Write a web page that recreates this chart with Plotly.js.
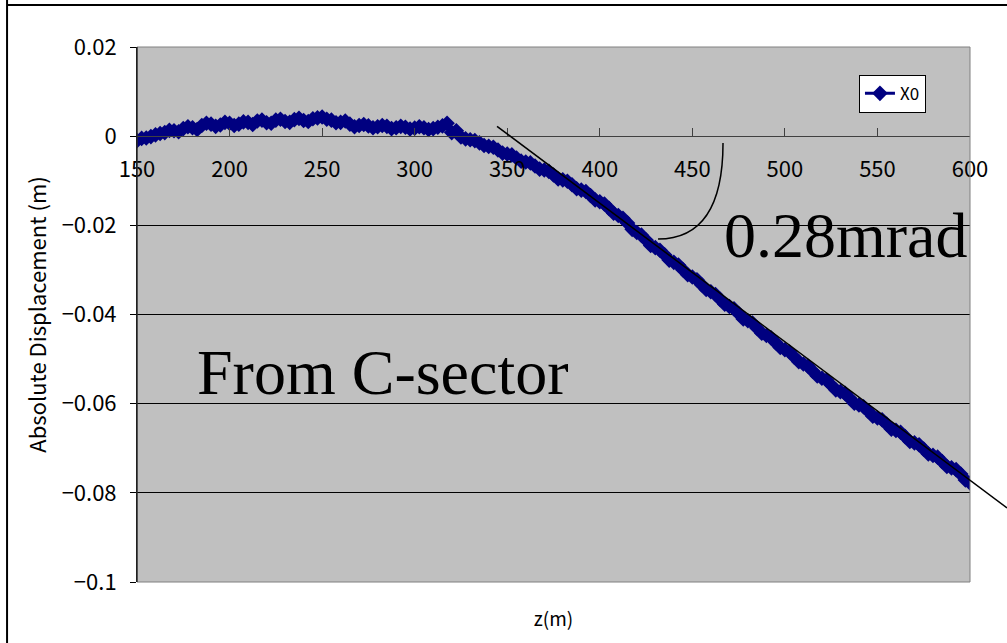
<!DOCTYPE html>
<html>
<head>
<meta charset="utf-8">
<script src="https://cdn.plot.ly/plotly-3.0.1.min.js"></script>
<style>html,body{margin:0;padding:0;background:#fff;}#chart{width:1007px;height:643px;}</style>
</head>
<body>
<div id="chart"></div>
<script>
// ---- data ----
const Z = [150,155,160,165,170,175,180,185,190,195,200,205,210,215,220,225,230,235,240,245,250,255,260,265,270,275,280,285,290,295,300,305,310,315,320,325,330,335,340,345,350,355,360,365,370,375,380,385,390,395,400,405,410,415,420,425,430,435,440,445,450,455,460,465,470,475,480,485,490,495,500,505,510,515,520,525,530,535,540,545,550,555,560,565,570,575,580,585,590,595,600];
const X0 = [-0.0010,-0.0004,0.0003,0.0008,0.0012,0.0017,0.0019,0.0024,0.0027,0.0025,0.0029,0.0027,0.0031,0.0034,0.0030,0.0036,0.0033,0.0037,0.0035,0.0039,0.0043,0.0036,0.0031,0.0027,0.0024,0.0023,0.0021,0.0022,0.0019,0.0020,0.0018,0.0019,0.0017,0.0023,0.0008,-0.0002,-0.0008,-0.0015,-0.0023,-0.0031,-0.0040,-0.0049,-0.0058,-0.0067,-0.0076,-0.0087,-0.0098,-0.0109,-0.0121,-0.0133,-0.0147,-0.0162,-0.0178,-0.0195,-0.0216,-0.0233,-0.0250,-0.0266,-0.0283,-0.0300,-0.0316,-0.0333,-0.0349,-0.0366,-0.0382,-0.0398,-0.0414,-0.0431,-0.0447,-0.0463,-0.0479,-0.0495,-0.0511,-0.0527,-0.0543,-0.0558,-0.0573,-0.0588,-0.0603,-0.0617,-0.0632,-0.0646,-0.0660,-0.0674,-0.0688,-0.0702,-0.0716,-0.0730,-0.0744,-0.0758,-0.0778];
const Z_MID = [152.5,157.5,162.5,167.5,172.5,177.5,182.5,187.5,192.5,197.5,202.5,207.5,212.5,217.5,222.5,227.5,232.5,237.5,242.5,247.5,252.5,257.5,262.5,267.5,272.5,277.5,282.5,287.5,292.5,297.5,302.5,307.5,312.5,317.5,322.5,327.5,332.5,337.5,342.5,347.5,352.5,357.5,362.5,367.5,372.5,377.5,382.5,387.5,392.5,397.5,402.5,407.5,412.5,417.5,422.5,427.5,432.5,437.5,442.5,447.5,452.5,457.5,462.5,467.5,472.5,477.5,482.5,487.5,492.5,497.5,502.5,507.5,512.5,517.5,522.5,527.5,532.5,537.5,542.5,547.5,552.5,557.5,562.5,567.5,572.5,577.5,582.5,587.5,592.5,597.5];
const X0_MID = [-0.0005,-0.0001,0.0006,0.0013,0.0010,0.0021,0.0015,0.0029,0.0022,0.0031,0.0024,0.0032,0.0026,0.0036,0.0029,0.0038,0.0031,0.0040,0.0033,0.0041,0.0038,0.0030,0.0034,0.0021,0.0026,0.0019,0.0024,0.0017,0.0022,0.0016,0.0021,0.0015,0.0020,0.0029,0.0012,-0.0006,-0.0010,-0.0021,-0.0025,-0.0038,-0.0042,-0.0056,-0.0060,-0.0074,-0.0079,-0.0096,-0.0101,-0.0118,-0.0124,-0.0143,-0.0152,-0.0173,-0.0184,-0.0209,-0.0222,-0.0245,-0.0256,-0.0278,-0.0289,-0.0311,-0.0322,-0.0344,-0.0355,-0.0377,-0.0387,-0.0410,-0.0419,-0.0442,-0.0452,-0.0474,-0.0484,-0.0506,-0.0516,-0.0538,-0.0547,-0.0569,-0.0577,-0.0599,-0.0607,-0.0628,-0.0636,-0.0657,-0.0664,-0.0685,-0.0692,-0.0713,-0.0720,-0.0741,-0.0748,-0.0771];
const SERIES_NAME = 'X0';
const X_TICKS = [150,200,250,300,350,400,450,500,550,600];
const Y_TICKS = [0.02,0,-0.02,-0.04,-0.06,-0.08,-0.1];
const Y_TICK_TEXT = ['0.02','0','\u22120.02','\u22120.04','\u22120.06','\u22120.08','\u22120.1'];
const X_RANGE = [150,600];
const Y_RANGE = [-0.1,0.02];
// tangent line annotation (z, value) and labels
const TANGENT_Z = [344.5,620];
const TANGENT_V = [0.0022,-0.0834];
const ANGLE_LABEL = '0.28mrad';
const SECTOR_LABEL = 'From C-sector';

// merge the two sampled sets in z order
const pts = Z.map((z,i)=>[z,X0[i]]).concat(Z_MID.map((z,i)=>[z,X0_MID[i]])).sort((a,b)=>a[0]-b[0]);
const allZ = pts.map(p=>p[0]);
const allV = pts.map(p=>p[1]);

const px = z => (z - X_RANGE[0]) / (X_RANGE[1] - X_RANGE[0]);
const py = v => (v - Y_RANGE[0]) / (Y_RANGE[1] - Y_RANGE[0]);

const FONT = '"Noto Sans CJK JP", "Noto Sans", sans-serif';
const tickFont = {family:FONT, size:22, color:'#000'};

const traces = [
  {x:allZ, y:allV, type:'scatter', mode:'lines+markers', name:SERIES_NAME, xaxis:'x', yaxis:'y',
   line:{color:'#000080', width:3}, marker:{symbol:'diamond', size:12, color:'#000080'}},
  {x:[], y:[], type:'scatter', xaxis:'x2', yaxis:'y', showlegend:false, hoverinfo:'skip'}
];

const layout = {
  width:1007, height:643,
  margin:{l:137, r:37, t:47, b:61},
  paper_bgcolor:'#ffffff', plot_bgcolor:'#c0c0c0',
  showlegend:true,
  legend:{x:0.8667, y:0.948, xanchor:'left', yanchor:'top', bgcolor:'#ffffff', bordercolor:'#000', borderwidth:1,
          font:{family:FONT, size:17, color:'#000'}, itemwidth:30, tracegroupgap:0},
  xaxis:{range:X_RANGE, anchor:'free', position:py(0), side:'bottom', tickvals:X_TICKS, ticks:'inside', ticklen:8,
         tickcolor:'#404040', showline:true, linecolor:'#404040', linewidth:1, showgrid:false, zeroline:false,
         tickfont:tickFont, ticklabelstandoff:13, fixedrange:true},
  xaxis2:{range:X_RANGE, overlaying:'x', anchor:'y', side:'bottom', showticklabels:false, ticks:'', showgrid:false,
          zeroline:false, showline:false,
          title:{text:'z(m)', standoff:30, font:{family:FONT, size:19, color:'#000'}}},
  yaxis:{range:Y_RANGE, tickvals:Y_TICKS, ticktext:Y_TICK_TEXT, ticks:'outside', ticklen:6, tickcolor:'#000',
         showline:true, linecolor:'#000', linewidth:1, showgrid:true, gridcolor:'#000', gridwidth:1, zeroline:false,
         tickfont:tickFont, ticklabelstandoff:9,
         title:{text:'Absolute Displacement (m)', standoff:8, font:{family:FONT, size:22, color:'#000'}}},
  shapes:[
    {type:'rect', xref:'paper', yref:'paper', x0:0, x1:1, y0:0, y1:1, line:{color:'#808080', width:1}, layer:'above'},
    {type:'line', xref:'paper', yref:'paper', x0:0, x1:0, y0:0, y1:1, line:{color:'#000', width:1}, layer:'above'},
    {type:'line', xref:'paper', yref:'paper', x0:px(TANGENT_Z[0]), y0:py(TANGENT_V[0]), x1:px(TANGENT_Z[1]), y1:py(TANGENT_V[1]),
     line:{color:'#000', width:1.5}, layer:'above'},
    {type:'path', xref:'paper', yref:'paper', path:'M 0.7035 0.8206 Q 0.7035 0.6411 0.6255 0.6411', line:{color:'#000', width:1.5}, layer:'above'},
    {type:'line', xref:'paper', yref:'paper', x0:-0.156, x1:-0.156, y0:-0.12, y1:1.09, line:{color:'#000', width:2}},
    {type:'line', xref:'paper', yref:'paper', x0:-0.156, x1:1.05, y0:1.0785, y1:1.0785, line:{color:'#000', width:2}}
  ],
  annotations:[
    {text:ANGLE_LABEL, xref:'paper', yref:'paper', x:(722-137)/833, y:(582-235)/535, xanchor:'left', yanchor:'middle', showarrow:false,
     font:{family:'"Liberation Serif", "Times New Roman", serif', size:64, color:'#000'}},
    {text:SECTOR_LABEL, xref:'paper', yref:'paper', x:(195-137)/833, y:(582-372)/535, xanchor:'left', yanchor:'middle', showarrow:false,
     font:{family:'"Liberation Serif", "Times New Roman", serif', size:64, color:'#000'}}
  ]
};

Plotly.newPlot('chart', traces, layout, {displayModeBar:false, staticPlot:true});
</script>
</body>
</html>
